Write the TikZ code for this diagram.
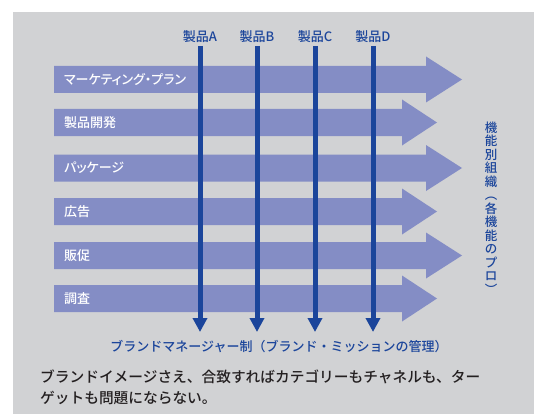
\documentclass[tikz,border=0pt]{standalone}
\usepackage{fontspec}
\setmainfont{Noto Sans CJK JP Medium}
\newfontfamily\paltfont{Noto Sans CJK JP Medium}[RawFeature=+palt]
\usetikzlibrary{arrows.meta}
\definecolor{bg}{HTML}{D1D2D4}
\definecolor{arrowfill}{HTML}{848DC5}
\definecolor{darkblue}{HTML}{1B459B}
\definecolor{txt}{HTML}{231F20}
\tikzset{
  rowlabel/.style={anchor=west, text=white, inner sep=0pt, font=\paltfont\fontsize{13}{14}\selectfont},
  prodlabel/.style={text=darkblue, inner sep=0pt, font=\fontsize{13}{15}\selectfont},
  prodline/.style={draw=darkblue, line width=5pt, -{Triangle[width=14pt,length=14pt]}},
}
\begin{document}
\begin{tikzpicture}[x=1pt,y=-1pt]
\useasboundingbox (0,0) rectangle (534,414);
\fill[bg] (13,12) rectangle (534,414);
% horizontal arrows: center, head start, tip
\foreach \c/\h/\t/\lab [count=\i] in {79.5/426/462/{マーケティング・プラン},122.5/402/437/{製品開発},168/426/462/{パッケージ},211.5/402/437/{広告},255.5/426/462/{販促},298.5/402/437/{調査}}{
  \fill[arrowfill] (54,\c-13.5) -- (\h,\c-13.5) -- (\h,\c-23) -- (\t,\c) -- (\h,\c+23) -- (\h,\c+13.5) -- (54,\c+13.5) -- cycle;
  \node[rowlabel] (row\i) at (64,\c) {\lab};
}
% products
\foreach \x/\p in {200/A,257/B,315/C,373/D}{
  \node[prodlabel] (p\p) at (\x,37) {製品\p};
  \coordinate (t\p) at (\x,46);
  \coordinate (b\p) at (\x,332);
  \draw[prodline] (t\p) -- (b\p);
}
% right vertical text
\node[text=darkblue, inner sep=0pt, align=center, font=\fontsize{12.5}{13.5}\selectfont] (func) at (491,208)
  {機\\能\\別\\組\\織\\︵\\各\\機\\能\\の\\プ\\ロ\\︶};
% bottom labels
\node[prodlabel, font=\fontsize{13}{14}\selectfont] (brand) at (279,347) {ブランドマネージャー制（ブランド・ミッションの管理）};
\node[anchor=west, text=txt, inner sep=0pt, align=left, font=\fontsize{14.7}{21}\selectfont] (note) at (40,387.5)
  {ブランドイメージさえ、合致すればカテゴリーもチャネルも、ター\\ゲットも問題にならない。};
\end{tikzpicture}
\end{document}
